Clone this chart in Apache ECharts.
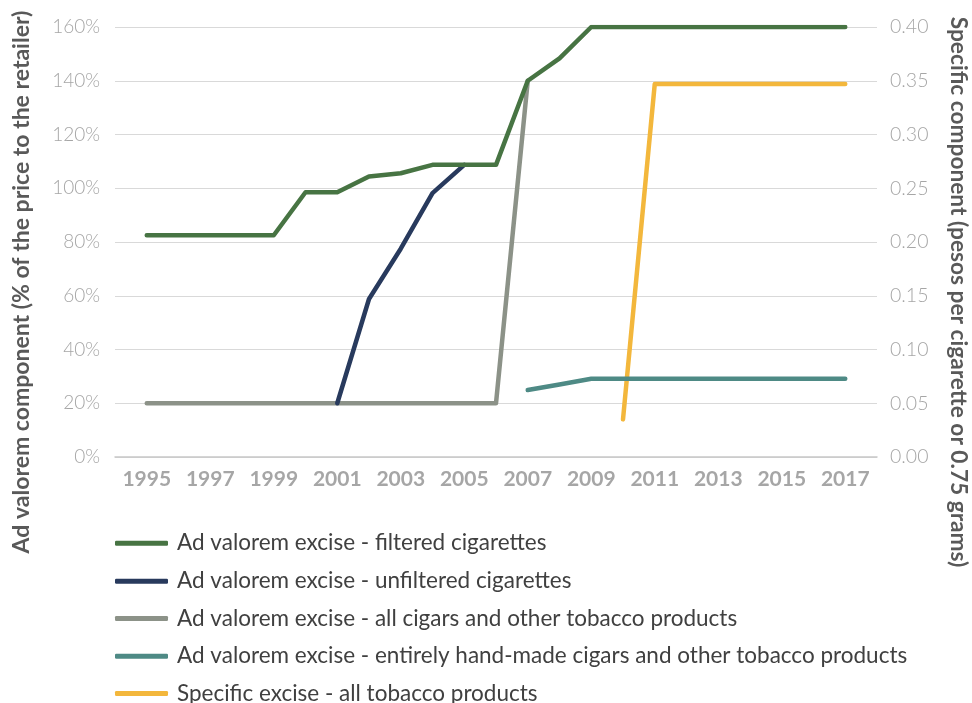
<!DOCTYPE html>
<html>
<head>
<meta charset="utf-8">
<script src="https://cdn.jsdelivr.net/npm/echarts@6/dist/echarts.min.js"></script>
<style>
html,body{margin:0;padding:0;background:#fff;}
#chart{width:972px;height:703px;}
</style>
</head>
<body>
<div id="chart"></div>
<script>
// Years (x values)
const years = [1995,1996,1997,1998,1999,2000,2001,2002,2003,2004,2005,2006,2007,2008,2009,2010,2011,2012,2013,2014,2015,2016,2017];
// Ad valorem (% of price to retailer), left axis; null = no data
const filtered   = [82.5,82.5,82.5,82.5,82.5,98.5,98.5,104.4,105.6,108.7,108.7,108.7,140,148.3,160,160,160,160,160,160,160,160,160];
const unfiltered = [null,null,null,null,null,null,20,58.8,77.5,98.2,108.7,null,null,null,null,null,null,null,null,null,null,null,null];
const cigars     = [20,20,20,20,20,20,20,20,20,20,20,20,140,null,null,null,null,null,null,null,null,null,null];
const handMade   = [null,null,null,null,null,null,null,null,null,null,null,null,24.9,27,29.1,29.1,29.1,29.1,29.1,29.1,29.1,29.1,29.1];
// Specific (pesos per cigarette), right axis
const specific   = [null,null,null,null,null,null,null,null,null,null,null,null,null,null,null,0.035,0.347,0.347,0.347,0.347,0.347,0.347,0.347];

const names = [
  'Ad valorem excise - filtered cigarettes',
  'Ad valorem excise - unfiltered cigarettes',
  'Ad valorem excise - all cigars and other tobacco products',
  'Ad valorem excise - entirely hand-made cigars and other tobacco products',
  'Specific excise - all tobacco products'
];
const colors = ['#477443','#283a5d','#8c9288','#4e8a85','#f3b73c'];
const seriesData = [filtered, unfiltered, cigars, handMade, specific];
const legendCenters = [542.7, 580.7, 618, 655.7, 693];

function pairs(arr){
  const out = [];
  arr.forEach((v,i)=>{ if(v!==null) out.push([years[i], v]); });
  return out;
}

const chart = echarts.init(document.getElementById('chart'));
const FONT = 'Lato';
chart.setOption({
  animation:false,
  textStyle:{fontFamily:FONT},
  grid:{left:115, right:95, top:27, bottom:246},
  xAxis:{
    type:'value', min:1994, max:2018, interval:1,
    axisLine:{show:true, lineStyle:{color:'#c8c8c8', width:1.5}},
    axisTick:{show:false},
    splitLine:{show:false},
    axisLabel:{
      margin:12, color:'#a6a6a6', fontSize:21, fontWeight:'bold', fontFamily:FONT,
      formatter:function(v){ return (v%2===1) ? String(v) : ''; }
    }
  },
  yAxis:[{
    type:'value', min:0, max:160, interval:20,
    axisLine:{show:false}, axisTick:{show:false},
    splitLine:{lineStyle:{color:'#d9d9d9', width:1.2}},
    axisLabel:{margin:15, color:'#a6a6a6', fontSize:19, fontWeight:300, fontFamily:FONT, formatter:'{value}%'}
  },{
    type:'value', min:0, max:0.4, interval:0.05, position:'right',
    axisLine:{show:false}, axisTick:{show:false},
    splitLine:{show:false},
    axisLabel:{margin:13, color:'#a6a6a6', fontSize:19.5, fontWeight:300, fontFamily:FONT,
      formatter:function(v){ return v.toFixed(2); }}
  }],
  legend: names.map((n,i)=>({
    orient:'vertical', left:115, top:legendCenters[i]-11, padding:0,
    itemWidth:53, itemHeight:5, icon:'roundRect',
    textStyle:{color:'#404040', fontSize:22.5, lineHeight:22, fontFamily:FONT, padding:[0,0,0,4]},
    data:[n]
  })),
  graphic:[
    {type:'text', x:22, y:282, rotation:Math.PI/2,
      style:{text:'Ad valorem component (% of the price to the retailer)', fill:'#595959',
        font:'bold 23px Lato', textAlign:'center', textVerticalAlign:'middle'}},
    {type:'text', x:958, y:292, rotation:-Math.PI/2,
      style:{text:'Specific component (pesos per cigarette or 0.75 grams)', fill:'#595959',
        font:'bold 22.7px Lato', textAlign:'center', textVerticalAlign:'middle'}}
  ],
  series: seriesData.map((d,i)=>({
    name:names[i], type:'line', yAxisIndex: i===4 ? 1 : 0,
    data:pairs(d), showSymbol:false, symbol:'none',
    lineStyle:{color:colors[i], width:4.5, cap:'round', join:'round'},
    itemStyle:{color:colors[i]},
    z: 10 - i
  }))
});
</script>
</body>
</html>
